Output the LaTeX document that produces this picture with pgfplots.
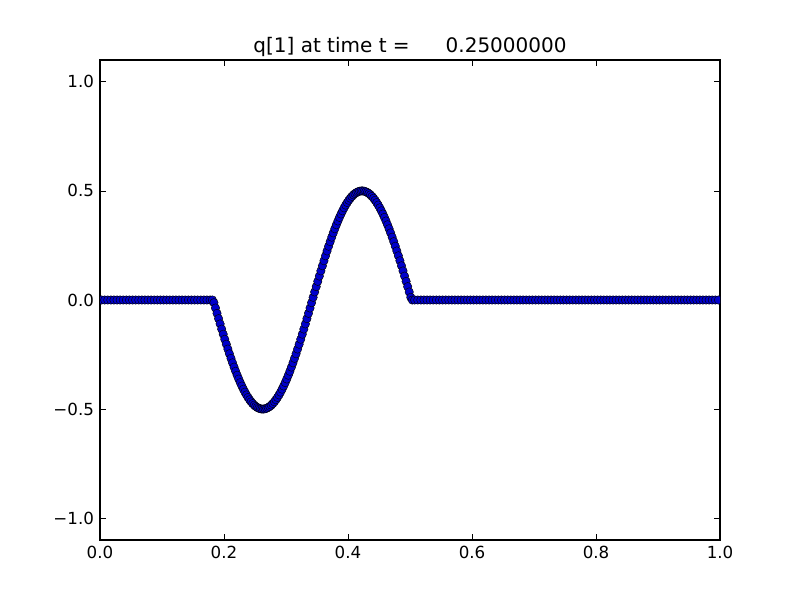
\documentclass[border=0pt]{standalone}
\usepackage{pgfplots}
\pgfplotsset{compat=1.18}
\usepackage{fontspec}
\setmainfont{DejaVu Sans}
\begin{document}
\begin{tikzpicture}
\useasboundingbox (0,0) rectangle (600pt,450pt);
\begin{axis}[
  at={(75pt,45pt)}, anchor=south west,
  scale only axis, width=465pt, height=360pt,
  xmin=0, xmax=1, ymin=-1.1, ymax=1.1,
  clip marker paths=true,
  xtick={0,0.2,0.4,0.6,0.8,1.0},
  xticklabels={0.0,0.2,0.4,0.6,0.8,1.0},
  ytick={-1,-0.5,0,0.5,1},
  yticklabels={−1.0,−0.5,0.0,0.5,1.0},
  tick align=inside, major tick length=4.2pt,
  tick style={black, line width=0.52pt},
  axis line style={line width=1pt},
  ticklabel style={font=\fontsize{12.5}{14}\selectfont},
  xticklabel style={yshift=-1pt},
  yticklabel style={xshift=-1pt},
  title={q[1] at time t =\hspace{1.8em}0.25000000},
  title style={font=\fontsize{15}{18}\selectfont, yshift=-7pt},
  every axis plot/.append style={only marks, mark=*, mark size=3.15pt,
    mark options={fill=blue, draw=black, line width=0.35pt}},
]
\addplot coordinates {
(0.0025,0) (0.0075,0) (0.0125,0) (0.0175,0) (0.0225,0) (0.0275,0) (0.0325,0) (0.0375,0) (0.0425,0) (0.0475,0)
(0.0525,0) (0.0575,0) (0.0625,0) (0.0675,0) (0.0725,0) (0.0775,0) (0.0825,0) (0.0875,0) (0.0925,0) (0.0975,0)
(0.1025,0) (0.1075,0) (0.1125,0) (0.1175,0) (0.1225,0) (0.1275,0) (0.1325,0) (0.1375,0) (0.1425,0) (0.1475,0)
(0.1525,0) (0.1575,0) (0.1625,0) (0.1675,0) (0.1725,0) (0.1775,0)
(0.18125,0)
(0.18375,-0.01227) (0.18625,-0.03678) (0.18875,-0.06121) (0.19125,-0.08548)
(0.19375,-0.10955) (0.19625,-0.13336) (0.19875,-0.15684) (0.20125,-0.17995)
(0.20375,-0.20262) (0.20625,-0.22481) (0.20875,-0.24645) (0.21125,-0.26750)
(0.21375,-0.28790) (0.21625,-0.30762) (0.21875,-0.32659) (0.22125,-0.34477)
(0.22375,-0.36212) (0.22625,-0.37861) (0.22875,-0.39417) (0.23125,-0.40879)
(0.23375,-0.42243) (0.23625,-0.43504) (0.23875,-0.44661) (0.24125,-0.45711)
(0.24375,-0.46650) (0.24625,-0.47476) (0.24875,-0.48189) (0.25125,-0.48785)
(0.25375,-0.49264) (0.25625,-0.49624) (0.25875,-0.49865) (0.26125,-0.49985)
(0.26375,-0.49985) (0.26625,-0.49865) (0.26875,-0.49624) (0.27125,-0.49264)
(0.27375,-0.48785) (0.27625,-0.48189) (0.27875,-0.47476) (0.28125,-0.46650)
(0.28375,-0.45711) (0.28625,-0.44661) (0.28875,-0.43504) (0.29125,-0.42243)
(0.29375,-0.40879) (0.29625,-0.39417) (0.29875,-0.37861) (0.30125,-0.36212)
(0.30375,-0.34477) (0.30625,-0.32659) (0.30875,-0.30762) (0.31125,-0.28790)
(0.31375,-0.26750) (0.31625,-0.24645) (0.31875,-0.22481) (0.32125,-0.20262)
(0.32375,-0.17995) (0.32625,-0.15684) (0.32875,-0.13336) (0.33125,-0.10955)
(0.33375,-0.08548) (0.33625,-0.06121) (0.33875,-0.03678) (0.34125,-0.01227)
(0.34375,0.01227) (0.34625,0.03678) (0.34875,0.06121) (0.35125,0.08548)
(0.35375,0.10955) (0.35625,0.13336) (0.35875,0.15684) (0.36125,0.17995)
(0.36375,0.20262) (0.36625,0.22481) (0.36875,0.24645) (0.37125,0.26750)
(0.37375,0.28790) (0.37625,0.30762) (0.37875,0.32659) (0.38125,0.34477)
(0.38375,0.36212) (0.38625,0.37861) (0.38875,0.39417) (0.39125,0.40879)
(0.39375,0.42243) (0.39625,0.43504) (0.39875,0.44661) (0.40125,0.45711)
(0.40375,0.46650) (0.40625,0.47476) (0.40875,0.48189) (0.41125,0.48785)
(0.41375,0.49264) (0.41625,0.49624) (0.41875,0.49865) (0.42125,0.49985)
(0.42375,0.49985) (0.42625,0.49865) (0.42875,0.49624) (0.43125,0.49264)
(0.43375,0.48785) (0.43625,0.48189) (0.43875,0.47476) (0.44125,0.46650)
(0.44375,0.45711) (0.44625,0.44661) (0.44875,0.43504) (0.45125,0.42243)
(0.45375,0.40879) (0.45625,0.39417) (0.45875,0.37861) (0.46125,0.36212)
(0.46375,0.34477) (0.46625,0.32659) (0.46875,0.30762) (0.47125,0.28790)
(0.47375,0.26750) (0.47625,0.24645) (0.47875,0.22481) (0.48125,0.20262)
(0.48375,0.17995) (0.48625,0.15684) (0.48875,0.13336) (0.49125,0.10955)
(0.49375,0.08548) (0.49625,0.06121) (0.49875,0.03678) (0.50125,0.01227)
(0.50375,0)
(0.5075,0) (0.5125,0) (0.5175,0) (0.5225,0) (0.5275,0) (0.5325,0) (0.5375,0) (0.5425,0) (0.5475,0) (0.5525,0)
(0.5575,0) (0.5625,0) (0.5675,0) (0.5725,0) (0.5775,0) (0.5825,0) (0.5875,0) (0.5925,0) (0.5975,0) (0.6025,0)
(0.6075,0) (0.6125,0) (0.6175,0) (0.6225,0) (0.6275,0) (0.6325,0) (0.6375,0) (0.6425,0) (0.6475,0) (0.6525,0)
(0.6575,0) (0.6625,0) (0.6675,0) (0.6725,0) (0.6775,0) (0.6825,0) (0.6875,0) (0.6925,0) (0.6975,0) (0.7025,0)
(0.7075,0) (0.7125,0) (0.7175,0) (0.7225,0) (0.7275,0) (0.7325,0) (0.7375,0) (0.7425,0) (0.7475,0) (0.7525,0)
(0.7575,0) (0.7625,0) (0.7675,0) (0.7725,0) (0.7775,0) (0.7825,0) (0.7875,0) (0.7925,0) (0.7975,0) (0.8025,0)
(0.8075,0) (0.8125,0) (0.8175,0) (0.8225,0) (0.8275,0) (0.8325,0) (0.8375,0) (0.8425,0) (0.8475,0) (0.8525,0)
(0.8575,0) (0.8625,0) (0.8675,0) (0.8725,0) (0.8775,0) (0.8825,0) (0.8875,0) (0.8925,0) (0.8975,0) (0.9025,0)
(0.9075,0) (0.9125,0) (0.9175,0) (0.9225,0) (0.9275,0) (0.9325,0) (0.9375,0) (0.9425,0) (0.9475,0) (0.9525,0)
(0.9575,0) (0.9625,0) (0.9675,0) (0.9725,0) (0.9775,0) (0.9825,0) (0.9875,0) (0.9925,0) (0.9975,0)
};
\end{axis}
\end{tikzpicture}
\end{document}
